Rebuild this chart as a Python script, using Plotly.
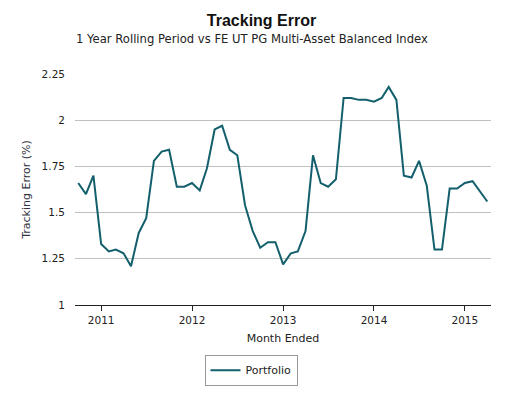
import plotly.graph_objects as go
import pandas as pd

months = pd.date_range("2010-10-01", "2015-04-01", freq="MS")
tracking_error = [
    1.66, 1.60, 1.70, 1.33, 1.29, 1.30, 1.28, 1.21, 1.39, 1.47,
    1.78, 1.83, 1.84, 1.64, 1.64, 1.66, 1.62, 1.74, 1.95, 1.97,
    1.84, 1.81, 1.54, 1.40, 1.31, 1.34, 1.34, 1.22, 1.28, 1.29,
    1.40, 1.81, 1.66, 1.64, 1.68, 2.12, 2.12, 2.11, 2.11, 2.10,
    2.12, 2.18, 2.11, 1.70, 1.69, 1.78, 1.645, 1.30, 1.30, 1.63,
    1.63, 1.66, 1.67, 1.62, 1.56,
]
y_ticks = [1, 1.25, 1.5, 1.75, 2, 2.25]
y_tick_labels = ["1", "1.25", "1.5", "1.75", "2", "2.25"]
x_ticks = ["2011-01-01", "2012-01-01", "2013-01-01", "2014-01-01", "2015-01-01"]
x_tick_labels = ["2011", "2012", "2013", "2014", "2015"]

FONT = "DejaVu Sans"
TXT = "#222222"

fig = go.Figure()
fig.add_trace(go.Scatter(
    x=months, y=tracking_error, mode="lines", name="Portfolio",
    line=dict(color="#135f6c", width=2),
))

fig.update_layout(
    width=523, height=398,
    margin=dict(l=75, r=32, t=74, b=91),
    paper_bgcolor="white", plot_bgcolor="white",
    font=dict(family=FONT, size=11, color=TXT),
    title=dict(
        text="<b>Tracking Error</b>",
        font=dict(family="Liberation Sans", size=16, color="#111111"),
        x=0.5, xanchor="center", xref="container",
        y=1 - 20 / 398, yanchor="middle", yref="container",
    ),
    annotations=[dict(
        text="1 Year Rolling Period vs FE UT PG Multi-Asset Balanced Index",
        xref="paper", yref="paper", x=(252 - 75) / 416, y=(307 - 39) / 232.7,
        xanchor="center", yanchor="middle", showarrow=False,
        font=dict(family=FONT, size=11.6, color=TXT),
    )],
    showlegend=True,
    legend=dict(
        orientation="h", x=(251 - 75) / 416, xanchor="center",
        y=-(357 - 307) / 232.7, yanchor="top",
        bordercolor="#999999", borderwidth=1, bgcolor="white",
        font=dict(family=FONT, size=11, color=TXT),
        itemwidth=30,
    ),
)

fig.update_xaxes(
    type="date", range=["2010-09-18", "2015-04-16"],
    tickvals=x_ticks, ticktext=x_tick_labels,
    showgrid=False, showline=True, linecolor="#222222", linewidth=1,
    ticks="outside", ticklen=5, tickcolor="#222222",
    tickfont=dict(family=FONT, size=10.5, color=TXT),
    title=dict(text="Month Ended", font=dict(family=FONT, size=11, color=TXT), standoff=9),
    zeroline=False, fixedrange=True,
)
fig.update_yaxes(
    range=[1, 2.25], tickvals=y_ticks, ticktext=y_tick_labels,
    showgrid=True, gridcolor="#c0c0c0", gridwidth=1,
    showline=False, zeroline=False, ticks="",
    tickfont=dict(family=FONT, size=10.5, color=TXT),
    ticklabelstandoff=9,
    title=dict(text="Tracking Error (%)", font=dict(family=FONT, size=11, color="#333344"), standoff=8),
    fixedrange=True,
)

fig.write_html(
    "out.html",
    config={"displayModeBar": False},
    post_script="document.body.style.margin='0';",
)
